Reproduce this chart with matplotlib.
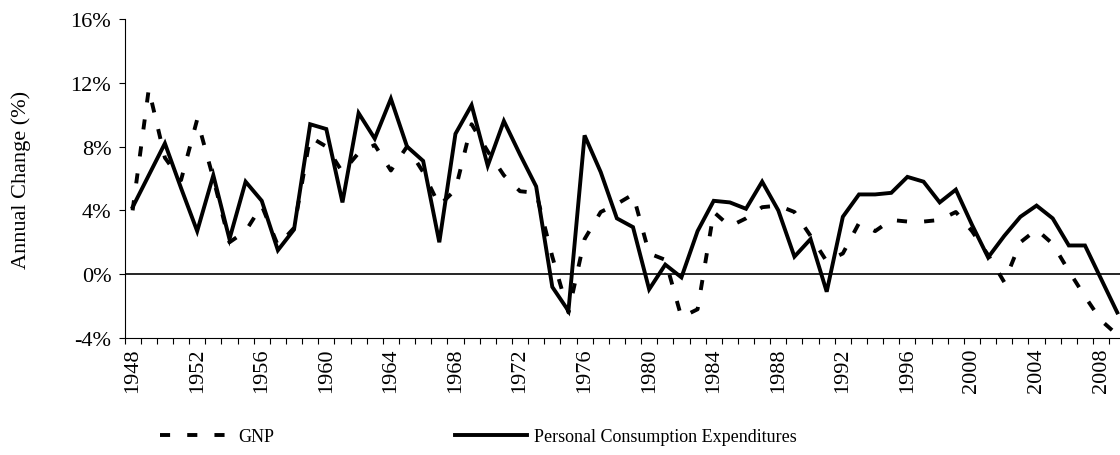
import matplotlib
matplotlib.use("Agg")
import matplotlib.pyplot as plt
from matplotlib.ticker import FixedLocator, FuncFormatter

plt.rcParams["font.family"] = ["Liberation Serif", "DejaVu Serif"]

years = list(range(1948, 2010))

gnp = [4.0, 11.6, 7.3, 5.9, 9.7, 6.0, 2.0, 2.7, 4.3, 1.8,
       2.9, 8.6, 8.0, 6.4, 7.6, 8.1, 6.5, 8.0, 6.4, 4.3,
       5.3, 9.4, 7.7, 6.2, 5.2, 5.1, 1.1, -2.4, 2.2, 3.9,
       4.4, 5.0, 1.3, 0.9, -2.7, -2.2, 3.9, 3.0, 3.5, 4.2,
       4.3, 3.9, 2.4, 0.8, 1.3, 3.2, 2.7, 3.4, 3.3, 3.3,
       3.4, 3.9, 2.7, 1.2, -0.5, 2.0, 2.8, 1.9, 0.2, -1.4,
       -2.9, -3.8]

pce = [4.2, 6.2, 8.2, 5.4, 2.7, 6.2, 2.2, 5.8, 4.6, 1.5,
       2.8, 9.4, 9.1, 4.5, 10.1, 8.5, 11.0, 8.0, 7.1, 2.0,
       8.8, 10.6, 6.8, 9.6, 7.5, 5.5, -0.8, -2.3, 8.7, 6.4,
       3.5, 2.95, -0.95, 0.6, -0.2, 2.7, 4.6, 4.5, 4.1, 5.8,
       4.0, 1.1, 2.2, -1.1, 3.6, 5.0, 5.0, 5.1, 6.1, 5.8,
       4.5, 5.3, 3.1, 1.05, 2.4, 3.6, 4.3, 3.5, 1.8, 1.8,
       -0.3, -2.4]

y_ticks = [-4, 0, 4, 8, 12, 16]

fig = plt.figure(figsize=(11.2, 4.56), dpi=100)
ax = fig.add_axes([0.1112, 0.2566, 0.8888, 0.6996])

x = list(range(len(years)))
ax.plot(x, gnp, color="black", lw=2.8, linestyle=(0, (2.6, 4.4)),
        dash_capstyle="butt", label="GNP")
ax.plot(x, pce, color="black", lw=2.8, solid_joinstyle="miter",
        label="Personal Consumption Expenditures")
ax.axhline(0, color="black", lw=1.2, zorder=1)

ax.set_xlim(-0.5, 61.17)
ax.set_ylim(-4, 16)

ax.yaxis.set_major_locator(FixedLocator(y_ticks))
ax.yaxis.set_major_formatter(FuncFormatter(lambda v, p: f"{int(v)}%"))
ax.tick_params(axis="y", direction="out", length=4.5, width=0.8,
               labelsize=16, pad=5)

label_pos = x[::4]
ax.xaxis.set_major_locator(FixedLocator(label_pos))
ax.set_xticklabels([str(years[i]) for i in label_pos], rotation=90)
ax.xaxis.set_minor_locator(FixedLocator([i - 0.5 for i in range(len(years) + 1)]))
ax.tick_params(axis="x", which="major", length=0, labelsize=16, pad=7)
ax.tick_params(axis="x", which="minor", direction="out", length=4.5, width=0.8)

for s in ["top", "right"]:
    ax.spines[s].set_visible(False)
ax.spines["left"].set_linewidth(0.8)
ax.spines["bottom"].set_linewidth(0.8)

ax.set_ylabel("Annual Change (%)", fontsize=16)
ax.yaxis.set_label_coords(-0.094, 0.5)

fig.legend(loc="center left", bbox_to_anchor=(0.143, 0.04), ncol=2,
           frameon=False, fontsize=13, handlelength=4, handletextpad=0.35,
           columnspacing=10, borderpad=0, borderaxespad=0)

fig.savefig("out.png", dpi=100)
